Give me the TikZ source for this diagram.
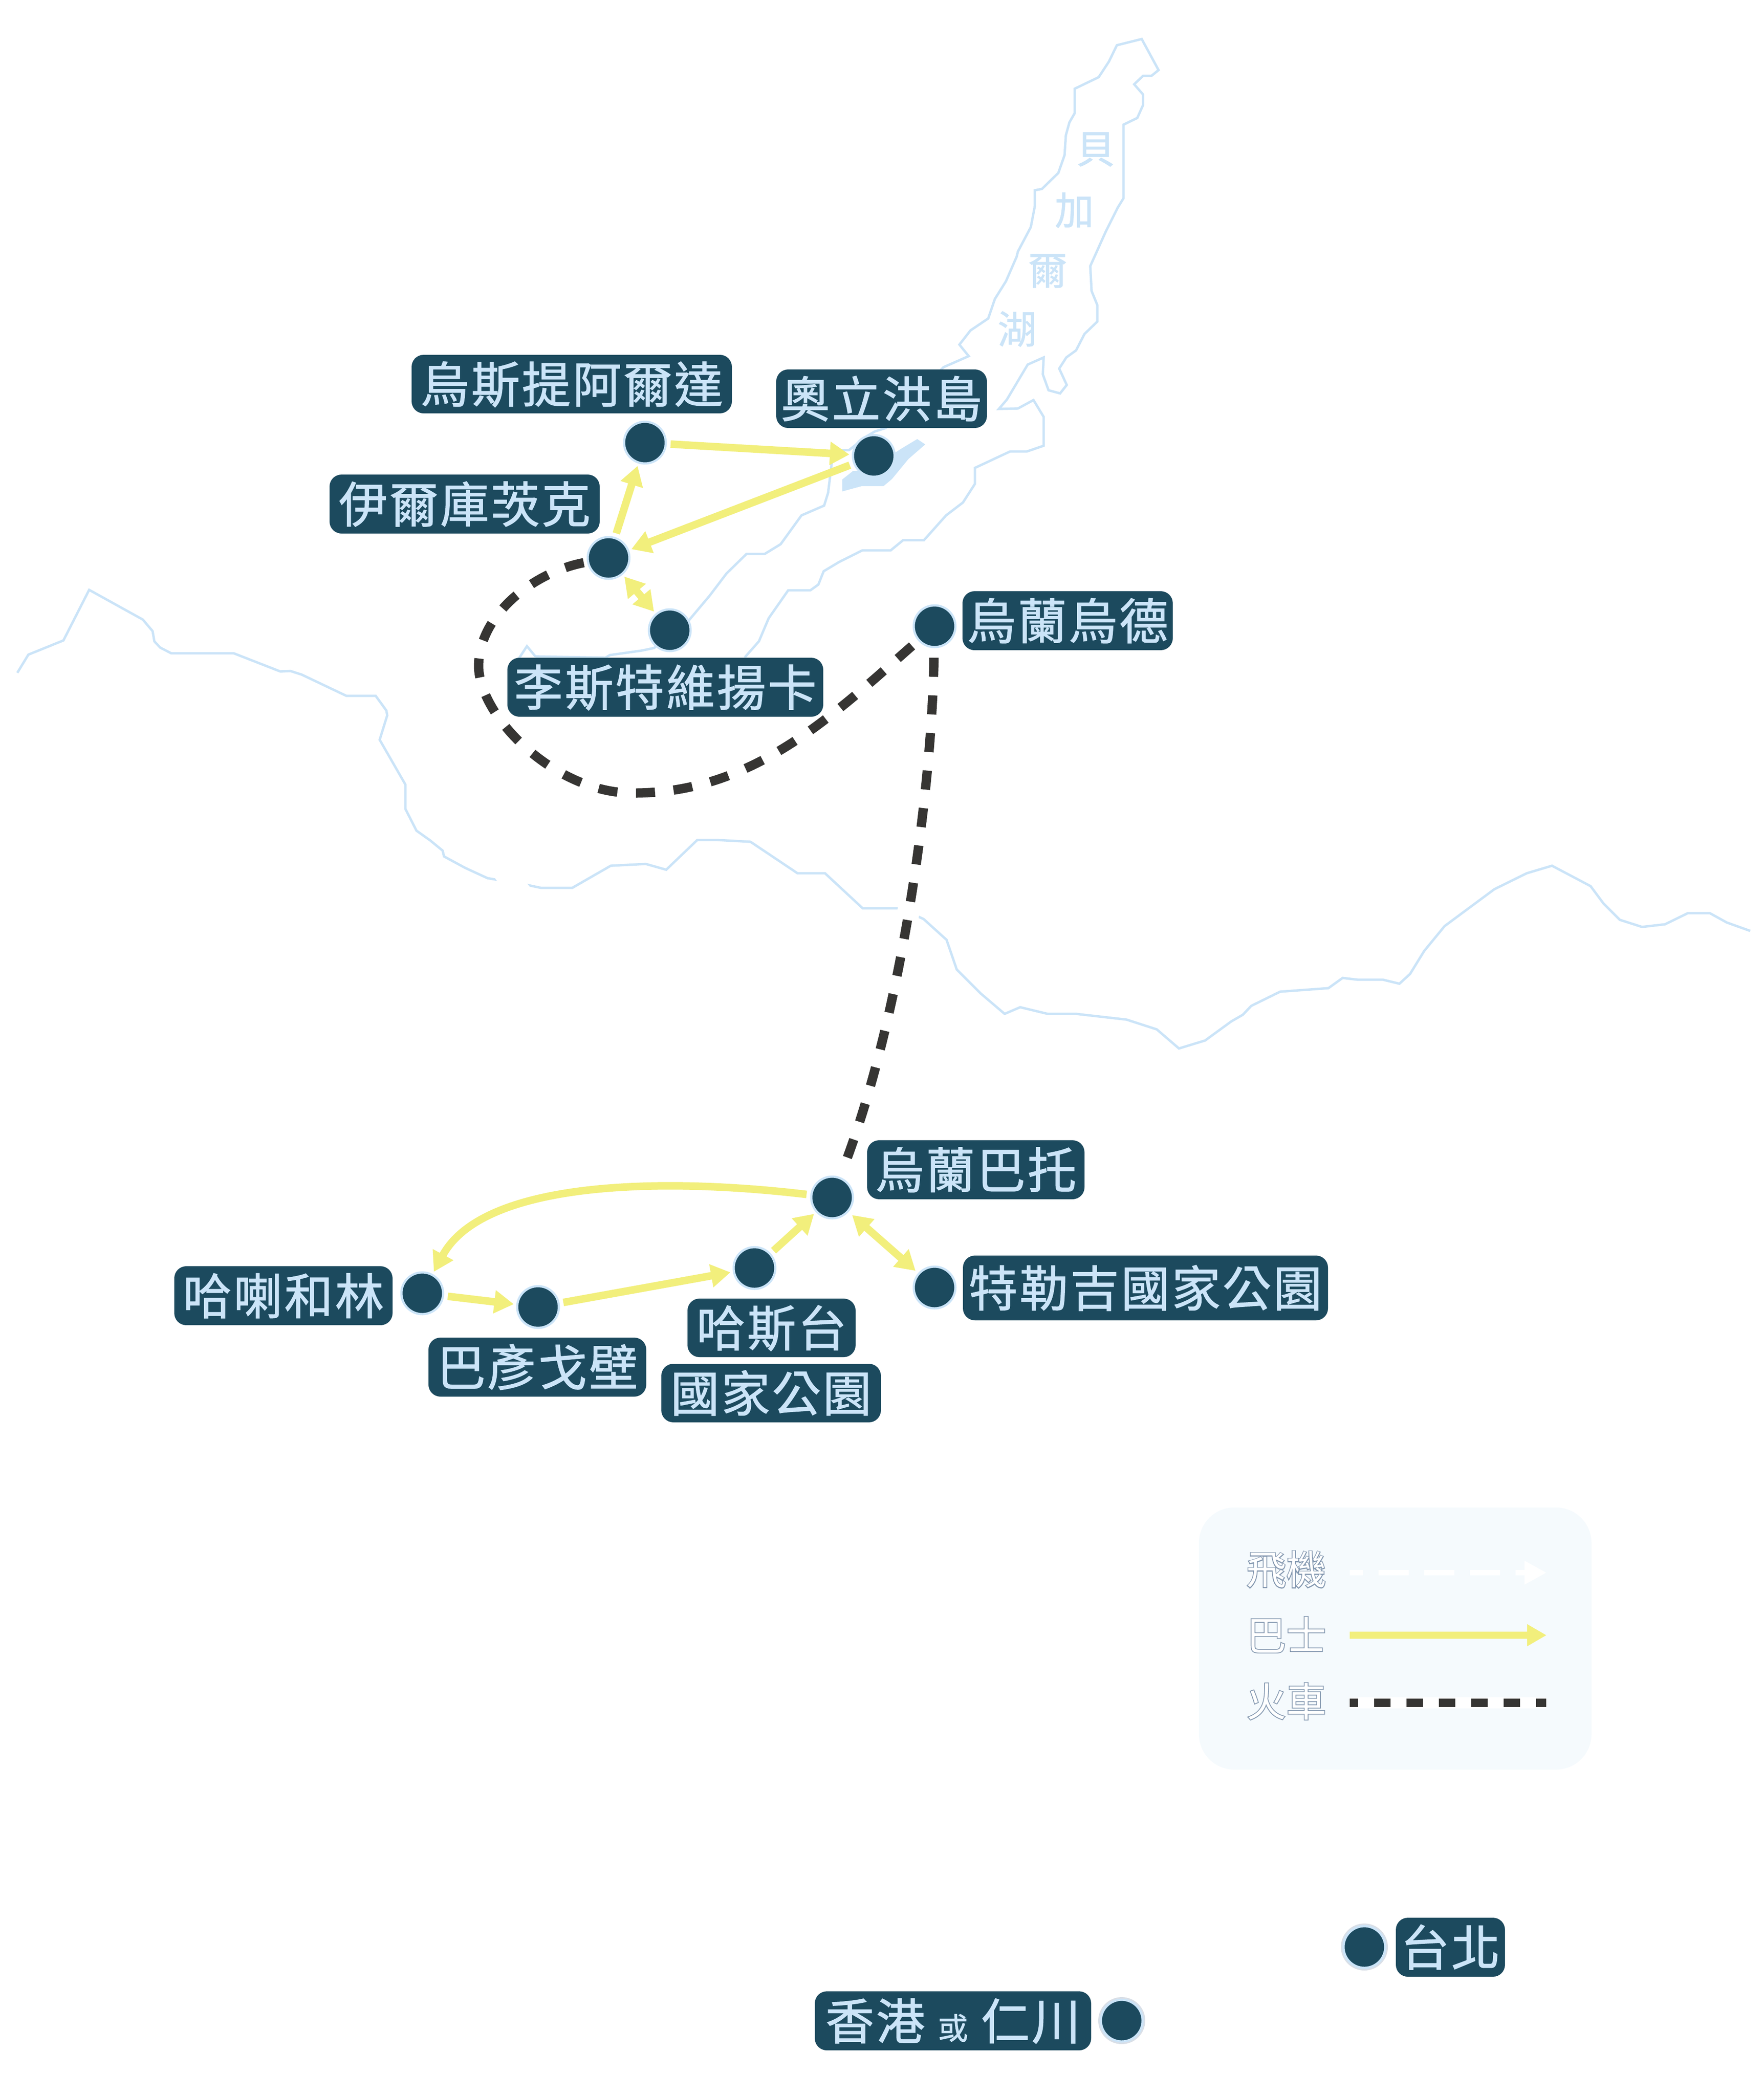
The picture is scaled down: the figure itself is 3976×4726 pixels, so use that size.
\documentclass[tikz,border=0pt]{standalone}
\usepackage{fontspec}
\usetikzlibrary{arrows.meta}
\newfontfamily\cjk[LetterSpace=4,FakeBold=1.3]{Noto Sans CJK TC}
\newfontfamily\cjkplain[FakeBold=1]{Noto Sans CJK TC}
\newfontfamily\cjkwhite{Noto Sans CJK TC}
\newfontfamily\cjkglow[FakeBold=4]{Noto Sans CJK TC}
\definecolor{deep}{HTML}{1C4A5E}
\definecolor{pale}{HTML}{CBE4F8}
\definecolor{busy}{HTML}{F2EF7C}
\definecolor{rail}{HTML}{363533}
\definecolor{legendbg}{HTML}{F5FAFD}
\definecolor{glow}{HTML}{8498B0}
\pgfdeclarelayer{under}
\pgfsetlayers{under,main}
\tikzset{
  lab/.style={fill=deep,rounded corners=6.75pt,inner sep=0pt,outer sep=0pt,text=pale,
    font=\cjk\fontsize{27.5}{27.5}\selectfont,text height=24.2pt,text depth=3.3pt,align=center},
  dot/.style={circle,fill=deep,draw=pale,line width=1.25pt,minimum size=23.5pt,inner sep=0pt,outer sep=0pt},
  mapline/.style={draw=pale,line width=1.35pt,miter limit=10},
  bus/.style={draw=busy,line width=4.25pt,-{Triangle[length=11pt,width=12.5pt,fill=busy]},shorten >=2pt,shorten <=2.75pt},
  busboth/.style={draw=busy,line width=4.25pt,{Triangle[length=11pt,width=12.5pt,fill=busy]}-{Triangle[length=11pt,width=12.5pt,fill=busy]},shorten >=2pt,shorten <=2pt},
  railhalo/.style={draw=white,line width=12.5pt},
  railway/.style={draw=rail,line width=5.25pt,dash pattern=on 10.75pt off 10.5pt},
  planehalo/.style={draw=white,line width=12.5pt},
  lake/.style={text=pale,font=\cjkplain\fontsize{22}{22}\selectfont,inner sep=0pt},
  legtext/.style={text=white,font=\cjkwhite\fontsize{22.5}{22.5}\selectfont,inner sep=0pt},
  legglow/.style={text=glow,font=\cjkglow\fontsize{22.5}{22.5}\selectfont,inner sep=0pt},
}
\newcommand\lab[6]{%
  \pgfmathsetmacro\lcx{(#2+#4)/2}\pgfmathsetmacro\lcy{(#3+#5)/2}%
  \pgfmathsetmacro\lw{(#4-#2)*.25}\pgfmathsetmacro\lh{(#5-#3)*.25}%
  \node[lab,minimum width=\lw pt,minimum height=\lh pt] (#1) at (\lcx,\lcy) {#6};}
\begin{document}
\begin{tikzpicture}[x=.25pt,y=-.25pt]
\useasboundingbox (0,0) rectangle (3976,4726);

% stops
\node[dot] (d1) at (1454,998) {};
\node[dot] (d2) at (1970,1028) {};
\node[dot] (d3) at (1372,1258) {};
\node[dot] (d4) at (1510,1421) {};
\node[dot] (d5) at (2107,1412) {};
\node[dot] (d6) at (1876,2700) {};
\node[dot] (d7) at (1701,2859) {};
\node[dot] (d8) at (1213,2947) {};
\node[dot] (d9) at (952,2916) {};
\node[dot] (d10) at (2107,2903) {};
\node[dot] (tpe) at (3076,4390) {};
\node[dot] (hkg) at (2529,4556) {};

% labels
\lab{l1}{928}{800}{1650}{932}{烏斯提阿爾達}
\lab{l2}{1750}{833}{2225}{965}{奧立洪島}
\lab{l3}{743}{1070}{1352}{1203}{伊爾庫茨克}
\lab{l4}{1144}{1483}{1856}{1616}{李斯特維揚卡}
\lab{l5}{2170}{1333}{2644}{1466}{烏蘭烏德}
\lab{l6}{1955}{2571}{2445}{2704}{烏蘭巴托}
\lab{l7}{2171}{2831}{2994}{2977}{特勒吉國家公園}
\lab{l8}{393}{2855}{885}{2988}{哈喇和林}
\lab{l9}{966}{3016}{1457}{3149}{巴彥戈壁}
\lab{l10}{1550}{2928}{1929}{3060}{哈斯台}
\lab{l11}{1491}{3075}{1986}{3207}{國家公園}
\lab{l12}{3147}{4324}{3393}{4457}{台北}
\lab{l13}{1837}{4490}{2460}{4623}{香港 {\fontsize{17}{17}\selectfont 或} 仁川}

% lake name
\node[lake] (b1) at (2470,337) {貝};
\node[lake] (b2) at (2422,474) {加};
\node[lake] (b3) at (2362,611) {爾};
\node[lake] (b4) at (2293,742) {湖};

% legend
\node[legglow] (g1) at (2900,3539) {飛機};
\node[legglow] (g2) at (2900,3686) {巴士};
\node[legglow] (g3) at (2900,3836) {火車};
\node[legtext] (t1) at (2900,3539) {飛機};
\node[legtext] (t2) at (2900,3686) {巴士};
\node[legtext] (t3) at (2900,3836) {火車};

\begin{pgfonlayer}{under}
\fill[white] (0,0) rectangle (3976,4726);
% Baikal
\draw[mapline] (2127,828) -- (2184,803) -- (2163,777) -- (2188,745) -- (2228,718) -- (2243,674) -- (2268,634) -- (2292,579) -- (2295,567) -- (2324,512) -- (2333,465) -- (2333,429) -- (2349,426) -- (2386,390) -- (2400,350) -- (2403,305) -- (2411,276) -- (2423,255) -- (2423,200) -- (2477,174) -- (2500,139) -- (2518,102) -- (2574,88) -- (2612,158) -- (2596,171) -- (2577,171) -- (2557,190) -- (2577,213) -- (2577,237) -- (2564,266) -- (2533,281) -- (2533,447) -- (2520,468) -- (2493,522) -- (2458,600) -- (2461,656) -- (2474,688) -- (2474,725) -- (2445,753) -- (2426,790) -- (2404,806) -- (2388,831) -- (2405,868) -- (2390,887) -- (2364,880) -- (2351,844) -- (2353,806) -- (2317,822) -- (2270,901) -- (2252,922) -- (2295,921) -- (2330,902) -- (2353,940) -- (2353,1005) -- (2315,1018) -- (2277,1018) -- (2198,1055) -- (2198,1091) -- (2171,1133) -- (2133,1162) -- (2083,1218) -- (2036,1218) -- (2008,1241) -- (1944,1241) -- (1892,1267) -- (1857,1288) -- (1845,1318) -- (1827,1331) -- (1777,1331) -- (1733,1394) -- (1711,1446) -- (1681,1480) -- (1660,1560) -- (1170,1560) -- (1163,1495) -- (1188,1457) -- (1207,1480) -- (1365,1483) -- (1375,1477) -- (1446,1467) -- (1475,1461) -- (1510,1421) -- (1552,1400) -- (1600,1343) -- (1638,1293) -- (1683,1249) -- (1724,1249) -- (1760,1227) -- (1807,1162) -- (1858,1140) -- (1867,1111) -- (1876,1037) -- (1880,1015) -- (1914,1015) -- (1928,1004) -- (1950,986) -- (1972,973) -- (1997,965) -- cycle;
% Olkhon
\fill[pale] (2068,990) -- (2086,1002) -- (2048,1035) -- (2011,1080) -- (1992,1096) -- (1943,1096) -- (1899,1108) -- (1899,1081) -- (1923,1062) -- (1968,1060) -- (2019,1020) -- (2033,1011) -- cycle;
% border
\draw[mapline] (39,1517) -- (64,1476) -- (143,1444) -- (201,1330) -- (322,1397) -- (344,1423) -- (348,1446) -- (361,1460) -- (386,1473) -- (527,1473) -- (632,1514) -- (655,1513) -- (680,1521) -- (781,1569) -- (847,1569) -- (871,1602) -- (873,1613) -- (856,1668) -- (914,1769) -- (914,1824) -- (939,1873) -- (970,1895) -- (998,1918) -- (1001,1931) -- (1049,1957) -- (1099,1980) -- (1187,1995) -- (1220,2002) -- (1290,2002) -- (1377,1952) -- (1456,1948) -- (1502,1961) -- (1572,1894) -- (1618,1894) -- (1692,1898) -- (1798,1969) -- (1860,1969) -- (1945,2048) -- (2028,2048) -- (2082,2072) -- (2134,2119) -- (2157,2186) -- (2211,2240) -- (2265,2286) -- (2300,2271) -- (2362,2286) -- (2426,2286) -- (2540,2299) -- (2608,2321) -- (2658,2364) -- (2717,2346) -- (2776,2303) -- (2802,2288) -- (2821,2268) -- (2886,2236) -- (2995,2228) -- (3027,2205) -- (3061,2209) -- (3118,2209) -- (3155,2218) -- (3179,2196) -- (3211,2144) -- (3257,2088) -- (3369,2005) -- (3442,1969) -- (3499,1952) -- (3586,1998) -- (3615,2037) -- (3652,2074) -- (3702,2090) -- (3754,2084) -- (3805,2059) -- (3855,2059) -- (3893,2080) -- (3946,2099);

% white plane route, white on white
\draw[planehalo] (d3) .. controls (1000,1330) and (880,1640) .. (1155,1990) .. controls (1400,2300) and (2300,3500) .. (hkg);

% glow of the two departure points
\fill[glow,opacity=.3] (tpe.center) circle[radius=53];
\fill[glow,opacity=.3] (hkg.center) circle[radius=53];

% trains
\draw[railhalo] (d3) .. controls (1205,1290) and (1079,1385) .. (1079,1503) .. controls (1082,1620) and (1255,1788) .. (1425,1788) .. controls (1700,1790) and (1880,1610) .. (d5);
\draw[railhalo] (d5) .. controls (2100,1800) and (2030,2300) .. (d6);
\draw[railway,shorten <=2.5pt] (d3) .. controls (1205,1290) and (1079,1385) .. (1079,1503) .. controls (1082,1620) and (1255,1788) .. (1425,1788) .. controls (1700,1790) and (1880,1610) .. (d5);
\draw[railway,shorten <=6pt,shorten >=5pt] (d5) .. controls (2100,1800) and (2030,2300) .. (d6);

% buses
\draw[bus] (d1) -- (d2);
\draw[bus] (d2) -- (d3);
\draw[bus] (d3) -- (d1);
\draw[busboth] (d3) -- (d4);
\draw[bus] (d6) .. controls (1500,2655) and (1090,2660) .. (d9);
\draw[bus] (d9) -- (d8);
\draw[bus] (d8) -- (d7);
\draw[bus] (d7) -- (d6);
\draw[busboth,shorten <=3.25pt,shorten >=2.5pt] (d6) -- (d10);

% legend
\fill[legendbg,rounded corners=20pt] (2703,3399) rectangle (3588,3990);
\coordinate (ka) at (3043,3546); \coordinate (kb) at (3486,3546);
\coordinate (ma) at (3043,3687); \coordinate (mb) at (3486,3687);
\coordinate (na) at (3043,3839); \coordinate (nb) at (3486,3839);
\draw[draw=white,line width=3.1pt,dash pattern=on 17pt off 8.75pt,dash phase=9.5pt] (ka) -- (3437,3546);
\fill[white] (3437,3519) -- (kb) -- (3437,3573) -- cycle;
\draw[draw=busy,line width=4.1pt] (ma) -- (3445,3687);
\fill[busy] (3443,3662) -- (mb) -- (3443,3712) -- cycle;
\draw[draw=white,line width=6.25pt] (na) -- (nb);
\draw[draw=rail,line width=4.75pt,dash pattern=on 9.25pt off 9pt,dash phase=4.6pt] (na) -- (nb);
\end{pgfonlayer}
\end{tikzpicture}
\end{document}
